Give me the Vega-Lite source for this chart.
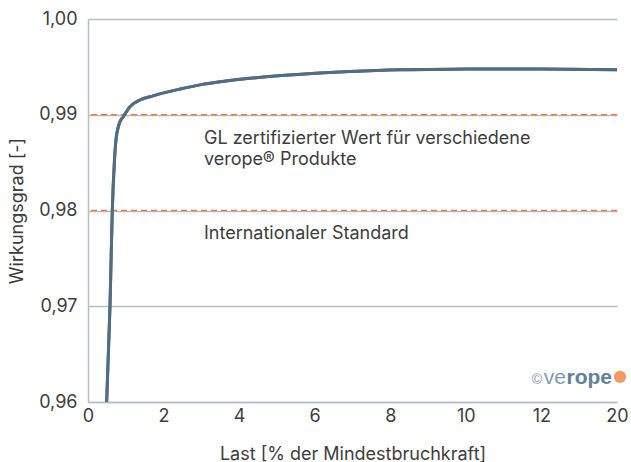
{
  "$schema": "https://vega.github.io/schema/vega-lite/v6.json",
  "width": 529,
  "height": 383,
  "autosize": {"type": "none"},
  "padding": {"left": 88, "top": 19, "right": 14, "bottom": 60},
  "background": "white",
  "config": {
    "view": {"stroke": null},
    "font": "Inter"
  },
  "datasets": {
    "curve": [
      {"last": 0.494, "wirkung": 0.9600},
      {"last": 0.582, "wirkung": 0.9700},
      {"last": 0.643, "wirkung": 0.9800},
      {"last": 0.700, "wirkung": 0.9852},
      {"last": 0.741, "wirkung": 0.9874},
      {"last": 0.830, "wirkung": 0.9891},
      {"last": 0.934, "wirkung": 0.9898},
      {"last": 1.110, "wirkung": 0.99084},
      {"last": 1.376, "wirkung": 0.99154},
      {"last": 1.700, "wirkung": 0.99195},
      {"last": 2.000, "wirkung": 0.99228},
      {"last": 2.400, "wirkung": 0.99265},
      {"last": 2.960, "wirkung": 0.99312},
      {"last": 3.600, "wirkung": 0.99350},
      {"last": 4.290, "wirkung": 0.99381},
      {"last": 5.340, "wirkung": 0.99415},
      {"last": 6.930, "wirkung": 0.99452},
      {"last": 8.250, "wirkung": 0.99470},
      {"last": 10.00, "wirkung": 0.99477},
      {"last": 10.80, "wirkung": 0.99479},
      {"last": 12.00, "wirkung": 0.99477},
      {"last": 20.00, "wirkung": 0.99470}
    ],
    "refs": [
      {"wert": 0.99},
      {"wert": 0.98}
    ],
    "labels": [
      {"last": 3.07, "wirkung": 0.98690, "text": "GL zertifizierter Wert für verschiedene"},
      {"last": 3.07, "wirkung": 0.98480, "text": "verope® Produkte"},
      {"last": 3.07, "wirkung": 0.97700, "text": "Internationaler Standard"}
    ],
    "logo": [
      {"last": 20, "wirkung": 0.9619}
    ]
  },
  "layer": [
    {
      "data": {"name": "curve"},
      "mark": {"type": "line", "color": "#4f6e86", "strokeWidth": 3, "interpolate": "monotone", "clip": true},
      "encoding": {
        "x": {
          "field": "last",
          "type": "quantitative",
          "scale": {"domain": [0, 12, 20], "range": [0, 453.4, 529], "nice": false, "zero": false},
          "axis": {
            "values": [0, 2, 4, 6, 8, 10, 12, 20],
            "title": "Last [% der Mindestbruchkraft]",
            "titleFont": "Inter",
            "titleFontSize": 18,
            "titleFontWeight": "normal",
            "titleColor": "#3d3d3d",
            "titlePadding": 20,
            "labelFont": "Inter",
            "labelFontSize": 18,
            "labelColor": "#3d3d3d",
            "labelPadding": 5,
            "labelFlush": false,
            "ticks": false,
            "grid": false,
            "domain": true,
            "domainColor": "#b3bec9",
            "domainWidth": 1.5,
            "format": "d"
          }
        },
        "y": {
          "field": "wirkung",
          "type": "quantitative",
          "scale": {"domain": [0.96, 1.0], "nice": false, "zero": false},
          "axis": {
            "values": [0.96, 0.97, 0.98, 0.99, 1.0],
            "labelExpr": "replace(format(datum.value, '.2f'), '.', ',')",
            "title": "Wirkungsgrad [-]",
            "titleFont": "Inter",
            "titleFontSize": 18,
            "titleFontWeight": "normal",
            "titleColor": "#3d3d3d",
            "titlePadding": 12,
            "labelFont": "Inter",
            "labelFontSize": 18,
            "labelColor": "#3d3d3d",
            "labelPadding": 11,
            "ticks": false,
            "grid": true,
            "gridColor": "#b3bec9",
            "gridWidth": 1.5,
            "domain": true,
            "domainColor": "#b3bec9",
            "domainWidth": 1.5
          }
        }
      }
    },
    {
      "data": {"name": "refs"},
      "mark": {"type": "rule", "color": "#f47a3c", "strokeWidth": 1.5, "strokeDash": [6, 4]},
      "encoding": {
        "y": {"field": "wert", "type": "quantitative"}
      }
    },
    {
      "data": {"name": "curve"},
      "mark": {"type": "line", "color": "#4f6e86", "strokeWidth": 3, "interpolate": "monotone", "clip": true},
      "encoding": {
        "x": {"field": "last", "type": "quantitative"},
        "y": {"field": "wirkung", "type": "quantitative"}
      }
    },
    {
      "data": {"name": "labels"},
      "mark": {"type": "text", "align": "left", "baseline": "alphabetic", "fontSize": 18, "color": "#3d3d3d", "font": "Inter"},
      "encoding": {
        "x": {"field": "last", "type": "quantitative"},
        "y": {"field": "wirkung", "type": "quantitative"},
        "text": {"field": "text"}
      }
    },
    {
      "data": {"name": "logo"},
      "mark": {"type": "text", "align": "right", "baseline": "alphabetic", "fontSize": 14, "color": "#7d95a8", "font": "Liberation Sans", "text": "©", "dx": -75},
      "encoding": {
        "x": {"field": "last", "type": "quantitative"},
        "y": {"field": "wirkung", "type": "quantitative"}
      }
    },
    {
      "data": {"name": "logo"},
      "mark": {"type": "text", "align": "right", "baseline": "alphabetic", "fontSize": 21, "color": "#8199ac", "font": "Liberation Sans", "text": "ve", "dx": -51},
      "encoding": {
        "x": {"field": "last", "type": "quantitative"},
        "y": {"field": "wirkung", "type": "quantitative"}
      }
    },
    {
      "data": {"name": "logo"},
      "mark": {"type": "text", "align": "right", "baseline": "alphabetic", "fontSize": 21, "fontWeight": "bold", "color": "#62809a", "font": "Liberation Sans", "text": "rope", "dx": -5},
      "encoding": {
        "x": {"field": "last", "type": "quantitative"},
        "y": {"field": "wirkung", "type": "quantitative"}
      }
    },
    {
      "data": {"name": "logo"},
      "mark": {"type": "point", "shape": "circle", "filled": true, "size": 150, "color": "#f79a62", "opacity": 1, "yOffset": -7, "xOffset": 3},
      "encoding": {
        "x": {"field": "last", "type": "quantitative"},
        "y": {"field": "wirkung", "type": "quantitative"}
      }
    }
  ]
}
